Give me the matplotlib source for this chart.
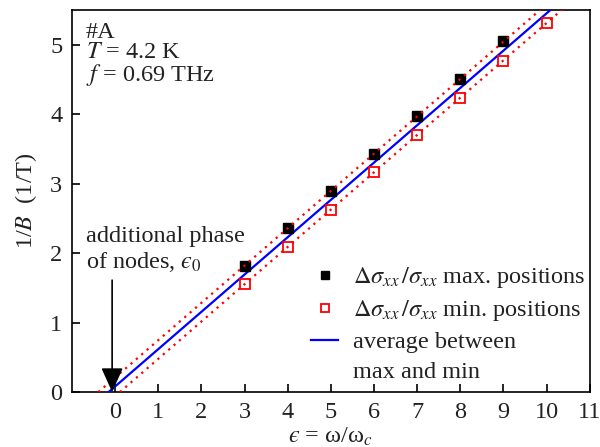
import matplotlib
matplotlib.use('Agg')
import matplotlib.pyplot as plt
from matplotlib.lines import Line2D

plt.rcParams['font.family'] = ['Liberation Serif', 'DejaVu Serif']
plt.rcParams['mathtext.fontset'] = 'stix'

# data
eps_max = [3, 4, 5, 6, 7, 8, 9]
inv_b_max = [1.82, 2.36, 2.90, 3.43, 3.97, 4.51, 5.05]
eps_min = [3, 4, 5, 6, 7, 8, 9, 10]
inv_b_min = [1.55, 2.08, 2.62, 3.16, 3.70, 4.23, 4.77, 5.31]

slope = 0.537
eps0_max = -0.39
eps0_min = 0.11
eps0_avg = -0.15

x_ticks = list(range(0, 12))
y_ticks = list(range(0, 6))

fs = 17.5
txt_col = '#222222'
fig = plt.figure(figsize=(6.0, 4.47), dpi=100)
ax = fig.add_axes([0.12, 0.123, 0.863, 0.855])


def fit_line(x0, x_end):
    xs = [x0, x_end]
    ys = [slope * (x - x0) for x in xs]
    return xs, ys


xs, ys = fit_line(eps0_max, 11)
ax.plot(xs, ys, color='#ff0000', lw=1.6, ls=(0, (1.0, 2.2)), zorder=4)
xs, ys = fit_line(eps0_min, 11)
ax.plot(xs, ys, color='#ff0000', lw=1.6, ls=(0, (1.0, 2.2)), zorder=4)
xs, ys = fit_line(eps0_avg, 11)
h_avg, = ax.plot(xs, ys, color='#0000ff', lw=1.6, zorder=3)

h_max, = ax.plot(eps_max, inv_b_max, ls='none', marker='s', ms=7,
                 mfc='black', mec='black', zorder=3)
h_min, = ax.plot(eps_min, inv_b_min, ls='none', marker='s', ms=7,
                 mfc='white', mec='#ff0000', mew=1.3, zorder=3)

# arrow to the phase offset
ax.annotate('', xy=(-0.07, 0.0), xytext=(-0.07, 1.61),
            arrowprops=dict(arrowstyle='-|>,head_length=1.0,head_width=0.45',
                            mutation_scale=15, color='black', lw=1.2,
                            shrinkA=0, shrinkB=0),
            zorder=5)
ax.text(-0.68, 1.70, 'additional phase\nof nodes, $\u03f5_\\mathit{0}$',
        fontsize=fs, color=txt_col, va='bottom', ha='left', linespacing=1.15)

ax.text(-0.68, 5.33, '#A\n$T$ = 4.2 K\n$f$ = 0.69 THz', fontsize=fs,
        color=txt_col, va='top', ha='left', linespacing=0.95)

empty = Line2D([], [], ls='none')
leg = ax.legend([h_max, h_min, h_avg, empty],
                ['$\\mathit{\\Delta}\\sigma_{xx}\\,/\\sigma_{xx}$ max. positions',
                 '$\\mathit{\\Delta}\\sigma_{xx}\\,/\\sigma_{xx}$ min. positions',
                 'average between', 'max and min'],
                loc='lower right', bbox_to_anchor=(1.0, 0.01), frameon=False,
                fontsize=fs, handlelength=1.1, handletextpad=0.6,
                labelspacing=0.33, borderaxespad=0.1, borderpad=0.1)
for t in leg.get_texts():
    t.set_color(txt_col)
for h in leg.legend_handles[:2]:
    h.set_markersize(5.5)

ax.set_xlim(-1, 11)
ax.set_ylim(0, 5.5)
ax.set_xticks(x_ticks)
ax.set_yticks(y_ticks)
ax.tick_params(direction='in', length=6, width=1.2, labelsize=fs,
               labelcolor=txt_col, pad=7)
for s in ax.spines.values():
    s.set_linewidth(1.2)

ax.set_ylabel('1/$B$  (1/T)', fontsize=fs, color=txt_col, labelpad=8)
ax.set_xlabel('$\u03f5$ = ω/ω$_c$', fontsize=fs, color=txt_col, labelpad=2)

fig.savefig('out.png', dpi=100)
